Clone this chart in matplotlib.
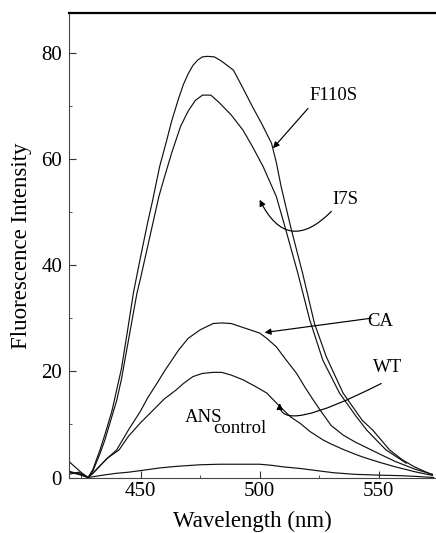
import matplotlib
matplotlib.use("Agg")
import matplotlib.pyplot as plt
from matplotlib.ticker import MultipleLocator

# ---- data ----
f110s_x = [420, 422, 425, 428, 430, 433, 435, 438, 440, 442, 444.5, 447, 450, 453, 455, 458, 461, 463, 466, 468,
           470, 472, 474, 476, 478, 481, 484, 489, 493, 497, 501, 505, 507, 509, 513, 518, 523, 528, 535, 543, 547.5,
           554.5, 560, 565, 572.5]
f110s_y = [3.0, 2.2, 1.0, 0.0, 1.5, 5.2, 8.0, 12.5, 16.5, 20.5, 27.5, 34.7, 41.5, 48.0, 52.0, 58.5, 63.5, 67.0, 71.4, 74.0,
           76.0, 77.6, 78.6, 79.2, 79.3, 79.2, 78.4, 76.7, 73.3, 69.8, 66.5, 62.9, 59.3, 54.8, 47.2, 38.5, 29.0, 22.7, 15.9, 10.8, 8.9,
           5.2, 3.3, 2.0, 0.5]

i7s_x = [420, 423, 426, 428, 430, 433, 435, 438, 440, 442, 445, 448.5, 450, 453, 455, 457.7, 460, 463, 466.8, 470,
         473, 476, 479.5, 483, 488, 493, 497, 501.5, 507, 511, 516, 521, 526.5, 533.5, 540.5, 545, 553, 561.5]
i7s_y = [1.2, 0.8, 0.5, 0.0, 1.2, 4.5, 7.0, 11.5, 14.5, 18.5, 26.0, 34.7, 37.5, 43.5, 47.5, 52.9, 56.5, 61.0, 66.1, 69.0,
         71.0, 72.0, 72.0, 70.6, 68.3, 65.4, 62.3, 58.5, 52.9, 46.6, 38.5, 29.7, 22.1, 15.9, 11.5, 8.9, 5.2, 2.7]

ca_x = [420, 424, 428, 430, 433, 436, 440, 445, 450, 453, 457, 460, 466, 470, 475, 480.5, 484, 488, 492, 496,
        500, 503, 507, 511, 515.5, 519, 522.5, 526, 530, 535, 540, 545, 550, 557, 565, 572.5]
ca_y = [1.0, 0.6, 0.0, 0.8, 2.2, 3.6, 5.2, 9.0, 12.5, 15.0, 17.8, 20.0, 24.0, 26.2, 27.8, 29.0, 29.1, 29.0, 28.4, 27.8,
        27.2, 26.2, 24.6, 22.2, 19.6, 17.0, 14.6, 12.3, 9.8, 8.0, 6.7, 5.6, 4.5, 3.0, 1.6, 0.6]

wt_x = [420, 424, 428, 430, 433, 436, 441, 445, 450, 454, 460, 465, 468, 472, 476, 480.5, 484, 488, 493, 498,
        503, 506, 510, 513, 517, 521, 526.5, 530, 535, 540, 543, 550, 557, 565, 572.5]
wt_y = [0.6, 1.0, 0.0, 0.8, 2.2, 3.6, 5.2, 7.8, 10.3, 12.1, 14.8, 16.5, 17.7, 19.0, 19.6, 19.8, 19.8, 19.3, 18.4, 17.2,
        15.9, 14.5, 12.7, 11.4, 10.2, 8.7, 7.1, 6.3, 5.3, 4.4, 3.9, 2.9, 2.0, 1.1, 0.4]

ans_x = [420, 424, 428, 435, 440, 445, 450, 458, 465, 475, 483, 490, 500, 505, 510, 517, 524, 531, 540, 550,
         559, 566, 573]
ans_y = [1.0, 0.7, 0.0, 0.5, 0.8, 1.0, 1.3, 1.8, 2.1, 2.4, 2.5, 2.5, 2.5, 2.3, 2.0, 1.7, 1.3, 0.9, 0.6, 0.45,
         0.35, 0.2, 0.0]

x_ticks = [450, 500, 550]
y_ticks = [0, 20, 40, 60, 80]

plt.rcParams['font.family'] = ['Liberation Serif', 'DejaVu Serif']

fig = plt.figure(figsize=(4.36, 5.33), dpi=100)
ax = fig.add_axes([0.1583, 0.1041, 0.8417, 0.8709])

lc = '#111111'
for xs, ys in [(f110s_x, f110s_y), (i7s_x, i7s_y), (ca_x, ca_y), (wt_x, wt_y), (ans_x, ans_y)]:
    ax.plot(xs, ys, color=lc, lw=0.85)

ax.set_xlim(420, 574)
ax.set_ylim(0, 87.4)
ax.set_xticks(x_ticks)
ax.set_yticks(y_ticks)
ax.xaxis.set_minor_locator(MultipleLocator(25))
ax.yaxis.set_minor_locator(MultipleLocator(10))
ax.tick_params(which='both', direction='in', labelsize=15, color='#333333')
ax.tick_params(which='major', length=5)
ax.tick_params(which='minor', length=2.5)
ax.tick_params(axis='x', which='both', pad=3.5, top=False)
ax.tick_params(axis='y', which='both', pad=5, right=False)

ax.spines['right'].set_visible(False)
ax.spines['left'].set_color('#444444')
ax.spines['bottom'].set_color('#444444')
ax.spines['top'].set_linewidth(1.6)

ax.set_xlabel('Wavelength (nm)', fontsize=16.5)
ax.set_ylabel('Fluorescence Intensity', fontsize=16.5)
ax.xaxis.set_label_coords(0.5, -0.072)
ax.yaxis.set_label_coords(-0.10, 0.5)

tfs = 13.5
aprops = dict(arrowstyle='-|>', lw=0.85, color='black', mutation_scale=9, shrinkA=0, shrinkB=0)

ax.text(531.1, 72.0, 'F110S', fontsize=tfs, ha='center', va='center')
ax.annotate('', xy=(505.6, 62.0), xytext=(520.3, 69.5), arrowprops=aprops)

ax.text(536.0, 52.4, 'I7S', fontsize=tfs, ha='center', va='center')
ax.annotate('', xy=(500.0, 52.3), xytext=(530.1, 50.1),
            arrowprops=dict(aprops, connectionstyle='arc3,rad=-0.7'))

ax.text(550.6, 29.3, 'CA', fontsize=tfs, ha='center', va='center')
ax.annotate('', xy=(502.1, 27.3), xytext=(546.9, 30.0), arrowprops=aprops)

ax.text(553.8, 20.7, 'WT', fontsize=tfs, ha='center', va='center')
ax.annotate('', xy=(508.4, 14.0), xytext=(551.0, 17.7),
            arrowprops=dict(aprops, connectionstyle='angle3,angleA=27,angleB=90'))

ax.text(468.6, 10.5, 'ANS', fontsize=tfs, ha='left', va='baseline')
ax.text(480.4, 8.3, 'control', fontsize=tfs, ha='left', va='baseline')

fig.savefig('out.png', dpi=100)
